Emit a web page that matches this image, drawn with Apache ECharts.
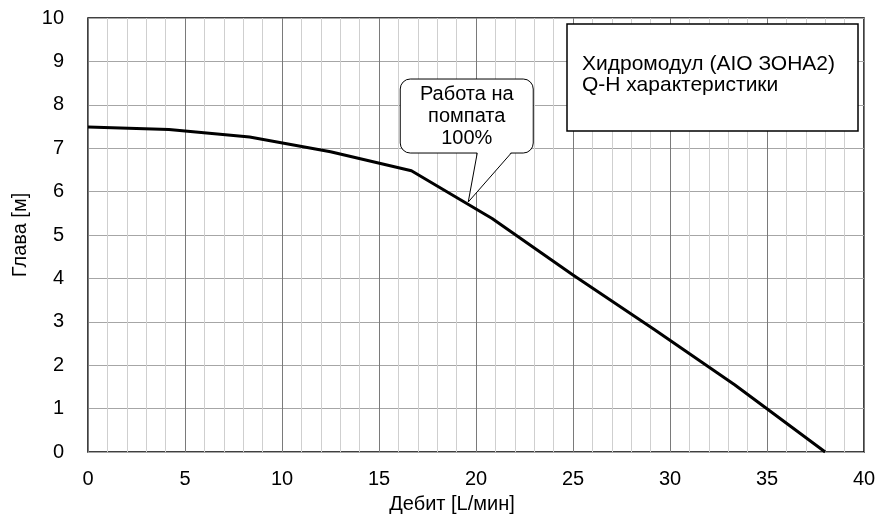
<!DOCTYPE html>
<html>
<head>
<meta charset="utf-8">
<script src="https://cdn.jsdelivr.net/npm/echarts@6/dist/echarts.min.js"></script>
<style>
  html, body { margin: 0; padding: 0; background: #fff; }
  #main { width: 880px; height: 520px; }
</style>
</head>
<body>
<div id="main"></div>
<script>
// Q-H curve
const flow = [0, 4.17, 8.33, 12.5, 16.67, 20.83, 25, 29.17, 33.33, 38]
const head = [7.49, 7.43, 7.26, 6.92, 6.48, 5.38, 4.08, 2.83, 1.55, 0]
const calloutAt = [19.6, 5.76]
const calloutText = ['Работа на', 'помпата', '100%']
const boxText = ['Хидромодул (AIO ЗОНА2)', 'Q-H характеристики']

const font = 'Liberation Sans'
const data = flow.map((x, i) => [x, head[i]])

const chartDom = document.getElementById('main')
const myChart = echarts.init(chartDom)

const option = {
  animation: false,
  textStyle: { fontFamily: font },
  grid: {
    left: 88, right: 16, top: 18, bottom: 68,
    show: true, borderColor: '#000', borderWidth: 1.5, backgroundColor: 'transparent'
  },
  xAxis: {
    type: 'value', min: 0, max: 40, interval: 5,
    name: 'Дебит [L/мин]', nameLocation: 'middle', nameGap: 42,
    nameTextStyle: { color: '#000', fontSize: 20, fontFamily: font, padding: [0, 48, 0, 0] },
    axisLine: { show: false }, axisTick: { show: false },
    axisLabel: { color: '#000', fontSize: 20, margin: 17, fontFamily: font },
    splitLine: { lineStyle: { color: '#7a7a7a', width: 1 } },
    minorTick: { show: false, splitNumber: 5 },
    minorSplitLine: { show: true, lineStyle: { color: '#cfcfcf', width: 1 } }
  },
  yAxis: {
    type: 'value', min: 0, max: 10, interval: 1,
    name: 'Глава [м]', nameLocation: 'middle', nameGap: 58,
    nameTextStyle: { color: '#000', fontSize: 20, fontFamily: font },
    axisLine: { show: false }, axisTick: { show: false },
    axisLabel: { color: '#000', fontSize: 20, margin: 24, fontFamily: font },
    splitLine: { lineStyle: { color: '#a6a6a6', width: 1 } }
  },
  series: [{
    type: 'line', data, symbol: 'none', silent: true,
    lineStyle: { color: '#000', width: 3 }, z: 5
  }]
}
myChart.setOption(option)

// callout bubble and info box
const tip = myChart.convertToPixel({ gridIndex: 0 }, calloutAt)
const bx = tip[0] - 68, by = tip[1] - 123, bw = 133, bh = 74
const gx0 = tip[0] + 9, gx1 = tip[0] + 43, gy = by + bh
myChart.setOption({
  graphic: [
    {
      type: 'rect', z: 10,
      shape: { x: bx, y: by, width: bw, height: bh, r: 10 },
      style: { fill: '#fff', stroke: '#000', lineWidth: 1 }
    },
    {
      type: 'polygon', z: 11,
      shape: { points: [[gx0, gy - 1], [gx1, gy - 1], [tip[0], tip[1]]] },
      style: { fill: '#fff', stroke: null }
    },
    {
      type: 'polyline', z: 12,
      shape: { points: [[gx0, gy], [tip[0], tip[1]], [gx1, gy]] },
      style: { stroke: '#000', lineWidth: 1, fill: null }
    },
    {
      type: 'text', z: 13,
      x: bx + bw / 2, y: by + bh / 2,
      style: {
        text: calloutText.join('\n'), fill: '#000', fontSize: 20, fontFamily: font,
        align: 'center', verticalAlign: 'middle', lineHeight: 22
      }
    },
    {
      type: 'rect', z: 10,
      shape: { x: 567, y: 24, width: 291, height: 107 },
      style: { fill: '#fff', stroke: '#000', lineWidth: 1.5 }
    },
    {
      type: 'text', z: 13,
      x: 582, y: 75,
      style: {
        text: boxText.join('\n'), fill: '#000', fontSize: 21, fontFamily: font,
        align: 'left', verticalAlign: 'middle', lineHeight: 21
      }
    }
  ]
})
</script>
</body>
</html>
